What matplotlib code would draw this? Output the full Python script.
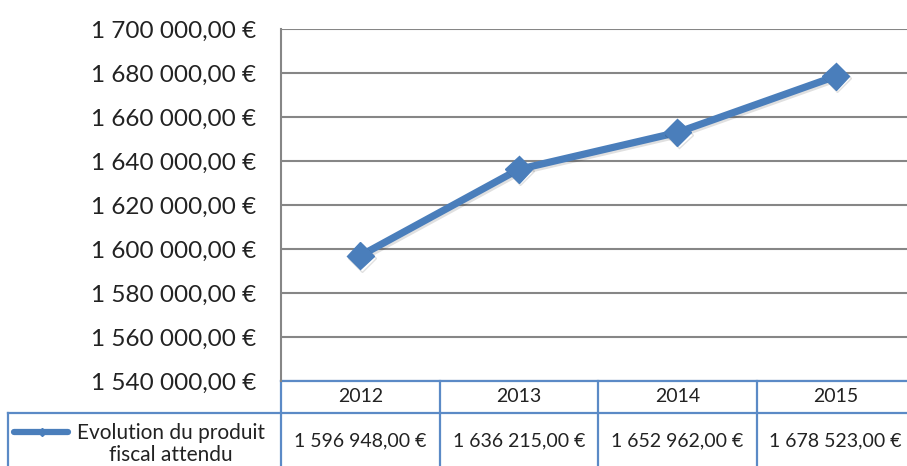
import matplotlib.pyplot as plt
import matplotlib.patheffects as pe
from matplotlib.transforms import blended_transform_factory

# donnees du graphique
annees = ['2012', '2013', '2014', '2015']
produit = [1596948, 1636215, 1652962, 1678523]
serie = 'Evolution du produit\nfiscal attendu'


def euro(v):
    # format francais : espace pour les milliers, virgule decimale
    return f'{v:,.2f}'.replace(',', ' ').replace('.', ',') + ' €'


plt.rcParams['font.family'] = ['Lato', 'DejaVu Sans']
bleu = '#4a7ebb'
bord = '#5b8ac6'
gris = '#868686'
texte = '#222222'

W, H = 907, 466
fig = plt.figure(figsize=(W / 100, H / 100), dpi=100)
ax = fig.add_axes([281 / W, 85 / H, 634 / W, 352 / H])

x = list(range(len(annees)))
ombre = [pe.SimpleLineShadow(offset=(1.2, -1.5), alpha=0.12), pe.Normal()]
ax.plot(x, produit, color=bleu, lw=5.2, marker='D', ms=14,
        path_effects=ombre, zorder=3)

ax.set_xlim(-0.5, len(annees) - 0.5)
ax.set_ylim(1540000, 1700000)
ax.set_yticks(range(1540000, 1700001, 20000))
ax.yaxis.set_major_formatter(lambda v, p: euro(v))
ax.tick_params(axis='y', length=0, pad=18, labelsize=17.5, labelcolor=texte)
ax.set_xticks([])
ax.grid(axis='y', color=gris, lw=1.5)
for s in ['top', 'right', 'bottom']:
    ax.spines[s].set_visible(False)
ax.spines['left'].set_color(gris)
ax.spines['left'].set_linewidth(1.5)

# tableau de donnees sous le graphique
tr = blended_transform_factory(ax.transData, ax.transAxes)
col_w = 634 / len(annees)
y_h = -32 / 352
y_b = -100 / 352
gauche = -0.5 - (281 - 8) / col_w
kw = dict(color=bord, lw=1.6, transform=tr, clip_on=False)
ax.plot([-0.5, len(annees) - 0.5], [0, 0], **kw)
ax.plot([gauche, len(annees) - 0.5], [y_h, y_h], **kw)
ax.plot([gauche, gauche], [y_h, y_b], **kw)
for i in range(len(annees) + 1):
    ax.plot([i - 0.5, i - 0.5], [0, y_b], **kw)

fs = 14
for i, (a, v) in enumerate(zip(annees, produit)):
    ax.text(i, -16 / 352, a, ha='center', va='center', fontsize=fs,
            color=texte, transform=tr)
    ax.text(i, -60 / 352, euro(v), ha='center', va='center', fontsize=fs,
            color=texte, transform=tr)

# cle de legende
xl = lambda px: -0.5 - (281 - px) / col_w
ax.plot([xl(14), xl(68)], [-51 / 352] * 2, color=bleu, lw=4.5,
        solid_capstyle='round', transform=tr, clip_on=False)
ax.plot([xl(42)], [-51 / 352], color=bleu, marker='D', ms=4,
        transform=tr, clip_on=False)
ax.text(xl(171), -63 / 352, serie, ha='center', va='center', fontsize=15,
        color=texte, linespacing=1.15, transform=tr)

fig.savefig('out.png', dpi=100)
